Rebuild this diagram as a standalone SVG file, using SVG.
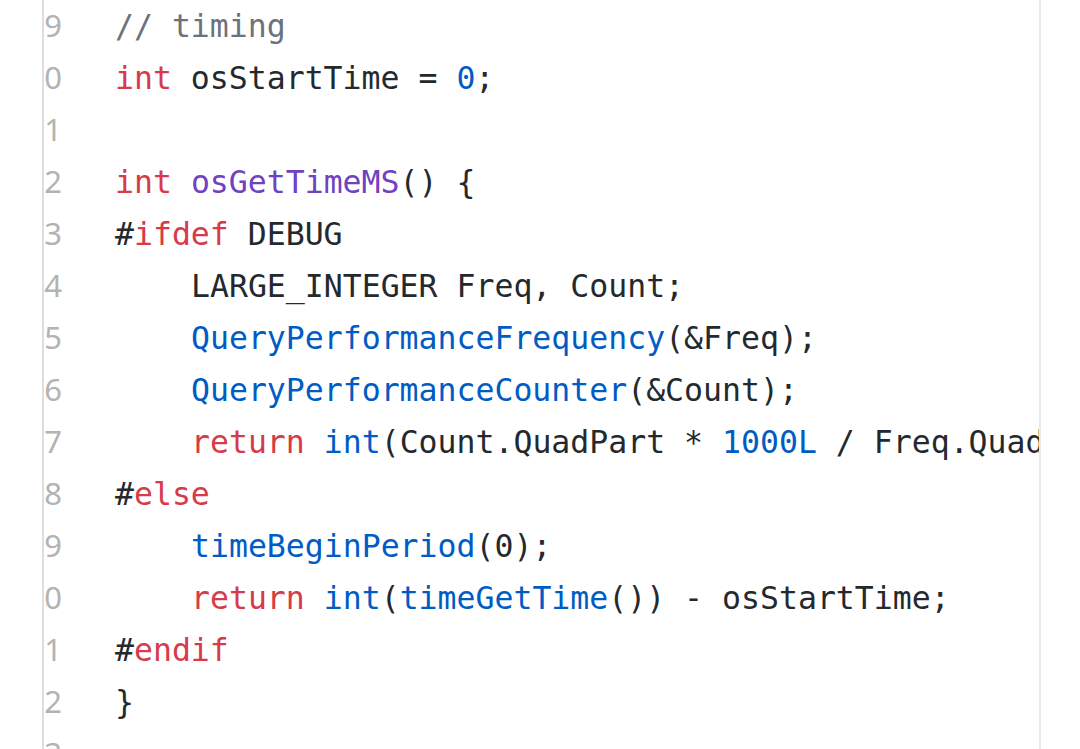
<svg xmlns="http://www.w3.org/2000/svg" width="1080" height="749" viewBox="0 0 1080 749">
  <style>
    .code { font-family: "DejaVu Sans Mono", "Liberation Mono", monospace; font-size: 31.5px; fill: #24292e; white-space: pre; }
    .ln { font-family: "Noto Sans", "DejaVu Sans", sans-serif; font-size: 31px; fill: #b3b3b3; text-anchor: end; }
    .kw { fill: #d73a49; }
    .fn { fill: #005cc5; }
    .num { fill: #005cc5; }
    .ent { fill: #6f42c1; }
    .cm { fill: #6a737d; }
  </style>
  <defs>
    <clipPath id="codeClip"><rect x="44" y="0" width="995" height="749"/></clipPath>
    <clipPath id="gutterClip"><rect x="44" y="0" width="60" height="749"/></clipPath>
  </defs>
  <rect x="0" y="0" width="1080" height="749" fill="#ffffff"/>
  <g id="borders">
    <rect x="42" y="0" width="2" height="749" fill="#dedede"/>
    <rect x="1039" y="0" width="2" height="749" fill="#e9e9e9"/>
  </g>
  <g id="gutter" clip-path="url(#gutterClip)">
    <text class="ln" x="62" y="37">9</text>
    <text class="ln" x="62" y="89">0</text>
    <text class="ln" x="62" y="141">1</text>
    <text class="ln" x="62" y="193">2</text>
    <text class="ln" x="62" y="245">3</text>
    <text class="ln" x="62" y="297">4</text>
    <text class="ln" x="62" y="349">5</text>
    <text class="ln" x="62" y="401">6</text>
    <text class="ln" x="62" y="453">7</text>
    <text class="ln" x="62" y="505">8</text>
    <text class="ln" x="62" y="557">9</text>
    <text class="ln" x="62" y="609">0</text>
    <text class="ln" x="62" y="661">1</text>
    <text class="ln" x="62" y="713">2</text>
    <text class="ln" x="62" y="765">3</text>
  </g>
  <g id="code" clip-path="url(#codeClip)">
    <text class="code" x="115" y="37"><tspan class="cm">// timing</tspan></text>
    <text class="code" x="115" y="89"><tspan class="kw">int</tspan> osStartTime = <tspan class="num">0</tspan>;</text>
    <text class="code" x="115" y="193"><tspan class="kw">int</tspan> <tspan class="ent">osGetTimeMS</tspan>() {</text>
    <text class="code" x="115" y="245">#<tspan class="kw">ifdef</tspan> DEBUG</text>
    <text class="code" x="191" y="297">LARGE_INTEGER Freq, Count;</text>
    <text class="code" x="191" y="349"><tspan class="fn">QueryPerformanceFrequency</tspan>(&amp;Freq);</text>
    <text class="code" x="191" y="401"><tspan class="fn">QueryPerformanceCounter</tspan>(&amp;Count);</text>
    <text class="code" x="191" y="453"><tspan class="kw">return</tspan> <tspan class="fn">int</tspan>(Count.QuadPart * <tspan class="num">1000L</tspan> / Freq.Quad</text>
    <text class="code" x="115" y="505">#<tspan class="kw">else</tspan></text>
    <text class="code" x="191" y="557"><tspan class="fn">timeBeginPeriod</tspan>(0);</text>
    <text class="code" x="191" y="609"><tspan class="kw">return</tspan> <tspan class="fn">int</tspan>(<tspan class="fn">timeGetTime</tspan>()) - osStartTime;</text>
    <text class="code" x="115" y="661">#<tspan class="kw">endif</tspan></text>
    <text class="code" x="115" y="713">}</text>
  </g>
</svg>
